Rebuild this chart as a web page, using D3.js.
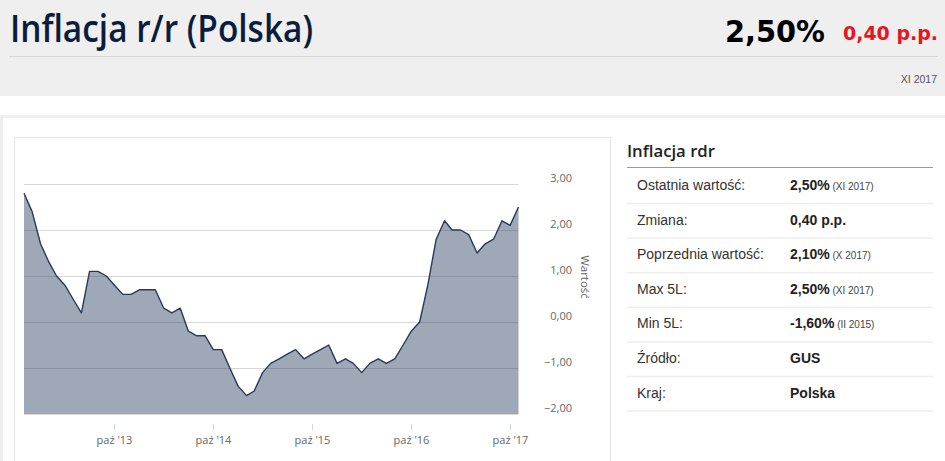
<!DOCTYPE html>
<html><head><meta charset="utf-8">
<script src="https://cdn.jsdelivr.net/npm/d3@7"></script>
<style>
html,body{margin:0;padding:0;background:#fff;overflow:hidden}
svg{display:block}
</style></head>
<body>
<svg id="c" width="945" height="461"></svg>
<script>
// ---- data ----
const months = ["2012-11","2012-12",
"2013-01","2013-02","2013-03","2013-04","2013-05","2013-06","2013-07","2013-08","2013-09","2013-10","2013-11","2013-12",
"2014-01","2014-02","2014-03","2014-04","2014-05","2014-06","2014-07","2014-08","2014-09","2014-10","2014-11","2014-12",
"2015-01","2015-02","2015-03","2015-04","2015-05","2015-06","2015-07","2015-08","2015-09","2015-10","2015-11","2015-12",
"2016-01","2016-02","2016-03","2016-04","2016-05","2016-06","2016-07","2016-08","2016-09","2016-10","2016-11","2016-12",
"2017-01","2017-02","2017-03","2017-04","2017-05","2017-06","2017-07","2017-08","2017-09","2017-10","2017-11"];
const inflation = [2.8,2.4,
1.7,1.3,1.0,0.8,0.5,0.2,1.1,1.1,1.0,0.8,0.6,0.6,
0.7,0.7,0.7,0.3,0.2,0.3,-0.2,-0.3,-0.3,-0.6,-0.6,-1.0,
-1.4,-1.6,-1.5,-1.1,-0.9,-0.8,-0.7,-0.6,-0.8,-0.7,-0.6,-0.5,
-0.9,-0.8,-0.9,-1.1,-0.9,-0.8,-0.9,-0.8,-0.5,-0.2,0.0,0.8,
1.8,2.2,2.0,2.0,1.9,1.5,1.7,1.8,2.2,2.1,2.5];
const xTickDates = ["2013-10","2014-10","2015-10","2016-10","2017-10"];
const xTickLabels = ["paź '13","paź '14","paź '15","paź '16","paź '17"];
const yTicks = [-2,-1,0,1,2,3];
const yTickLabels = ["−2,00","−1,00","0,00","1,00","2,00","3,00"];
const tableLabels = ["Ostatnia wartość:","Zmiana:","Poprzednia wartość:","Max 5L:","Min 5L:","Źródło:","Kraj:"];
const tableValues = ["2,50%","0,40 p.p.","2,10%","2,50%","-1,60%","GUS","Polska"];
const tableNotes = ["(XI 2017)","","(X 2017)","(XI 2017)","(II 2015)","",""];

const svg = d3.select("#c");
const parse = d3.timeParse("%Y-%m");
const data = months.map((m,i)=>({d:parse(m),v:inflation[i]}));

// ---- header ----
svg.append("rect").attr("x",0).attr("y",0).attr("width",945).attr("height",96).attr("fill","#efefef");
svg.append("text").attr("x",10).attr("y",42).text("Inflacja r/r (Polska)")
  .attr("font-family","Open Sans").attr("font-weight",600).attr("font-size",37)
  .attr("fill","#0b1d3d").attr("textLength",303).attr("lengthAdjust","spacingAndGlyphs");
svg.append("text").attr("x",725).attr("y",42).text("2,50%")
  .attr("font-family","DejaVu Sans").attr("font-weight",700).attr("font-size",31)
  .attr("fill","#000").attr("textLength",100).attr("lengthAdjust","spacingAndGlyphs");
svg.append("text").attr("x",843).attr("y",40).text("0,40 p.p.")
  .attr("font-family","DejaVu Sans").attr("font-weight",700).attr("font-size",19.5)
  .attr("fill","#e8141e").attr("textLength",95).attr("lengthAdjust","spacingAndGlyphs");
svg.append("line").attr("x1",9).attr("x2",938).attr("y1",56.5).attr("y2",56.5).attr("stroke","#d6d6d6").attr("stroke-width",1);
svg.append("text").attr("x",937).attr("y",82.5).attr("text-anchor","end").text("XI 2017")
  .attr("font-family","Liberation Sans").attr("font-size",10.5).attr("fill","#555");

// ---- panel frame ----
svg.append("rect").attr("x",0).attr("y",115).attr("width",945).attr("height",3).attr("fill","#eeeeee");
svg.append("rect").attr("x",0).attr("y",115).attr("width",3).attr("height",346).attr("fill","#eeeeee");
svg.append("rect").attr("x",14.5).attr("y",137.5).attr("width",596).attr("height",330)
  .attr("fill","#fff").attr("stroke","#e6e6e6").attr("stroke-width",1);

// ---- chart ----
const x = d3.scaleTime().domain([data[0].d, data[data.length-1].d]).range([24,518.5]);
const y = d3.scaleLinear().domain([-2,3]).range([414,184]);

const grid = svg.append("g");
grid.selectAll("line").data(yTicks).join("line")
  .attr("x1",24).attr("x2",518.5).attr("y1",d=>y(d)+0.5).attr("y2",d=>y(d)+0.5)
  .attr("stroke","#d8d8d8").attr("stroke-width",1);

const area = d3.area().x(d=>x(d.d)).y0(y(-2)).y1(d=>y(d.v));
const line = d3.line().x(d=>x(d.d)).y(d=>y(d.v));
svg.append("path").datum(data).attr("d",area).attr("fill","#1f3559").attr("fill-opacity",0.43);
svg.append("path").datum(data).attr("d",line).attr("fill","none").attr("stroke","#263a5a").attr("stroke-width",1.4).attr("stroke-linejoin","round");

// x axis
const xt = svg.append("g");
xTickDates.forEach((m,i)=>{
  const px = Math.round(x(parse(m)))+0.5;
  xt.append("line").attr("x1",px).attr("x2",px).attr("y1",424).attr("y2",430).attr("stroke","#ccd6eb");
  xt.append("text").attr("x",px).attr("y",443.5).attr("text-anchor","middle").text(xTickLabels[i])
    .attr("font-family","Open Sans").attr("font-size",11).attr("fill","#666");
});
// y axis labels
svg.append("g").selectAll("text").data(yTicks).join("text")
  .attr("x",572).attr("y",d=>y(d)-2).attr("text-anchor","end").text((d,i)=>yTickLabels[i])
  .attr("font-family","Open Sans").attr("font-size",11).attr("fill","#666");
svg.append("text").attr("transform","translate(581,277) rotate(90)").attr("text-anchor","middle")
  .text("Wartość").attr("font-family","Open Sans").attr("font-size",11.5).attr("fill","#666");

// ---- side table ----
svg.append("text").attr("x",627).attr("y",157).text("Inflacja rdr")
  .attr("font-family","Open Sans").attr("font-weight",600).attr("font-size",16.5)
  .attr("fill","#222").attr("textLength",88).attr("lengthAdjust","spacingAndGlyphs");
svg.append("line").attr("x1",627).attr("x2",933).attr("y1",167.5).attr("y2",167.5).attr("stroke","#999").attr("stroke-width",1.2);
const rowH = 34.6;
const tg = svg.append("g");
tableLabels.forEach((lab,i)=>{
  const by = 190 + rowH*i;
  tg.append("text").attr("x",637).attr("y",by).text(lab)
    .attr("font-family","Liberation Sans").attr("font-size",14).attr("fill","#333");
  const t = tg.append("text").attr("x",790).attr("y",by).attr("font-family","Liberation Sans").attr("font-size",14);
  t.append("tspan").text(tableValues[i]).attr("font-weight",700).attr("fill","#222");
  if (tableNotes[i]) t.append("tspan").text(" "+tableNotes[i]).attr("font-size",10).attr("fill","#444");
  tg.append("line").attr("x1",627).attr("x2",933).attr("y1",203.5+rowH*i).attr("y2",203.5+rowH*i)
    .attr("stroke","#eeeeee").attr("stroke-width",1.5);
});
</script>
</body></html>
